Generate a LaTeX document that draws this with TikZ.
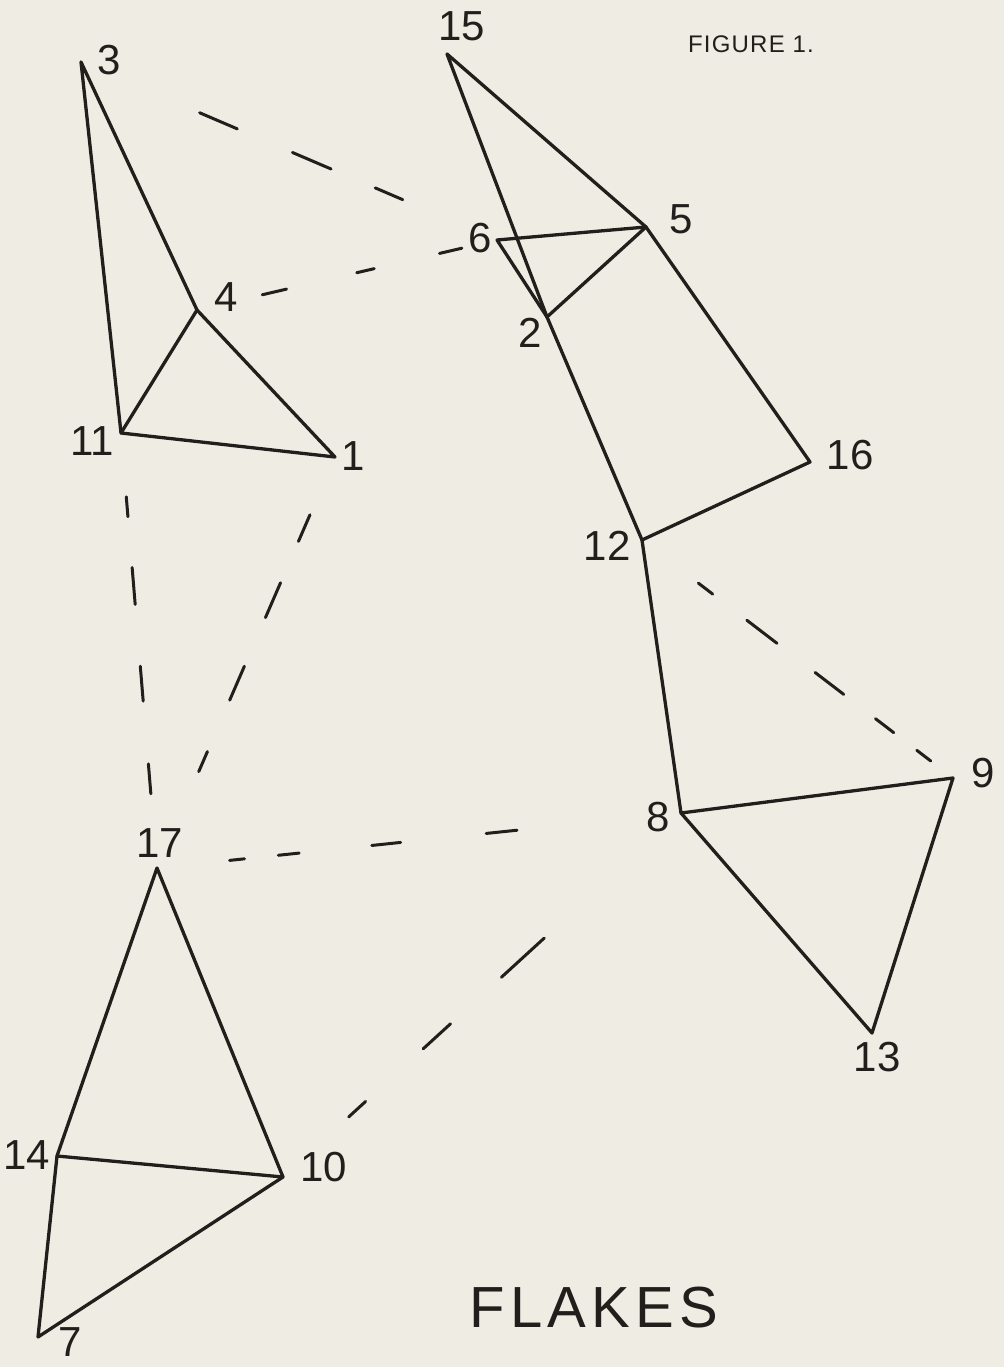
\documentclass[tikz,border=0pt]{standalone}
\usepackage{fontspec}
\setmainfont{Liberation Sans}
\usepackage{xcolor}
\usepackage{tikz}
\definecolor{FlakeInk}{HTML}{221E1B}
\definecolor{FlakePaper}{HTML}{EEECE3}
\tikzset{
  flkedge/.style={draw=FlakeInk, line width=3.3pt, line join=round, line cap=round},
  flkmatch/.style={draw=FlakeInk, line width=3pt, line cap=round},
  flknum/.style={text=FlakeInk, inner sep=0pt, font=\fontsize{42}{50}\selectfont},
  flktitle/.style={text=FlakeInk, inner sep=0pt}
}

\begin{document}
\begin{tikzpicture}[x=1pt, y=-1pt]
  \useasboundingbox (0,0) rectangle (1004,1367);
  \fill[FlakePaper] (0,0) rectangle (1004,1367);
  \clip (0,0) rectangle (1004,1367);

  % corner points of the flakes
  \coordinate (p1) at (335,457);
  \coordinate (p2) at (547,317);
  \coordinate (p3) at (81,62);
  \coordinate (p4) at (197,310);
  \coordinate (p5) at (646,227);
  \coordinate (p6) at (497,240);
  \coordinate (p7) at (38,1337);
  \coordinate (p8) at (681,813);
  \coordinate (p9) at (953,778);
  \coordinate (p10) at (283,1177);
  \coordinate (p11) at (121,433);
  \coordinate (p12) at (642,540);
  \coordinate (p13) at (872,1033);
  \coordinate (p14) at (57,1156);
  \coordinate (p15) at (447,54);
  \coordinate (p16) at (810,462);
  \coordinate (p17) at (157,868);

  % numbers
  \node[flknum] (n1) at (353,456) {1};
  \node[flknum] (n2) at (530,333) {2};
  \node[flknum] (n3) at (109,60) {3};
  \node[flknum] (n4) at (226,297) {4};
  \node[flknum] (n5) at (681,219) {5};
  \node[flknum] (n6) at (480,238) {6};
  \node[flknum] (n7) at (70,1342) {7};
  \node[flknum] (n8) at (658,817) {8};
  \node[flknum] (n9) at (983,773) {9};
  \node[flknum] (n10) at (324,1167) {10};
  \node[flknum] (n11) at (92,441) {11};
  \node[flknum] (n12) at (607,546) {12};
  \node[flknum] (n13) at (877,1057) {13};
  \node[flknum] (n14) at (27,1155) {14};
  \node[flknum] (n15) at (462,26) {15};
  \node[flknum] (n16) at (850,455) {16};
  \node[flknum] (n17) at (160,843) {17};

  \node[flktitle, font=\fontsize{24}{28}\selectfont\addfontfeature{LetterSpace=5}] (fig) at (751,44) {FIGURE 1.};
  \node[flktitle, font=\fontsize{58}{66}\selectfont\addfontfeature{LetterSpace=9}] (flakes) at (594,1308) {FLAKES};

  % flakes
  \draw[flkedge] (p3) -- (p4) -- (p1) -- (p11) -- cycle;
  \draw[flkedge] (p4) -- (p11);
  \draw[flkedge] (p15) -- (p5) -- (p16) -- (p12) -- (p2) -- cycle;
  \draw[flkedge] (p6) -- (p5) -- (p2) -- cycle;
  \draw[flkedge] (p12) -- (p8);
  \draw[flkedge] (p8) -- (p9) -- (p13) -- cycle;
  \draw[flkedge] (p17) -- (p10) -- (p7) -- (p14) -- cycle;
  \draw[flkedge] (p14) -- (p10);

  % matching lines
  \draw[flkmatch, shorten <=129pt, shorten >=101pt,
    dash pattern=on 41pt off 60pt on 42pt off 48pt on 30pt off 200pt] (p3) -- (p6);
  \draw[flkmatch, shorten <=67pt, shorten >=36pt,
    dash pattern=on 25pt off 72pt on 18pt off 67pt on 23pt off 200pt] (p4) -- (p6);
  \draw[flkmatch, shorten <=64pt, shorten >=73pt,
    dash pattern=on 20pt off 51pt on 37pt off 62pt on 35pt off 63pt on 30pt off 200pt] (p11) -- (p17);
  \draw[flkmatch, shorten <=63pt, shorten >=105pt,
    dash pattern=on 29pt off 45pt on 38pt off 53pt on 37pt off 56pt on 22pt off 200pt] (p1) -- (p17);
  \draw[flkmatch, shorten <=71pt, shorten >=28pt,
    dash pattern=on 18pt off 43pt on 38pt off 48pt on 36pt off 40pt on 23pt off 29pt on 18pt off 200pt] (p12) -- (p9);
  \draw[flkmatch, shorten <=73pt, shorten >=163pt,
    dash pattern=on 15pt off 34pt on 21pt off 73pt on 29pt off 86pt on 31pt off 200pt] (p17) -- (p8);
  \draw[flkmatch, shorten <=89pt, shorten >=184pt,
    dash pattern=on 23pt off 78pt on 37pt off 69pt on 58pt off 200pt] (p10) -- (p8);
\end{tikzpicture}
\end{document}
